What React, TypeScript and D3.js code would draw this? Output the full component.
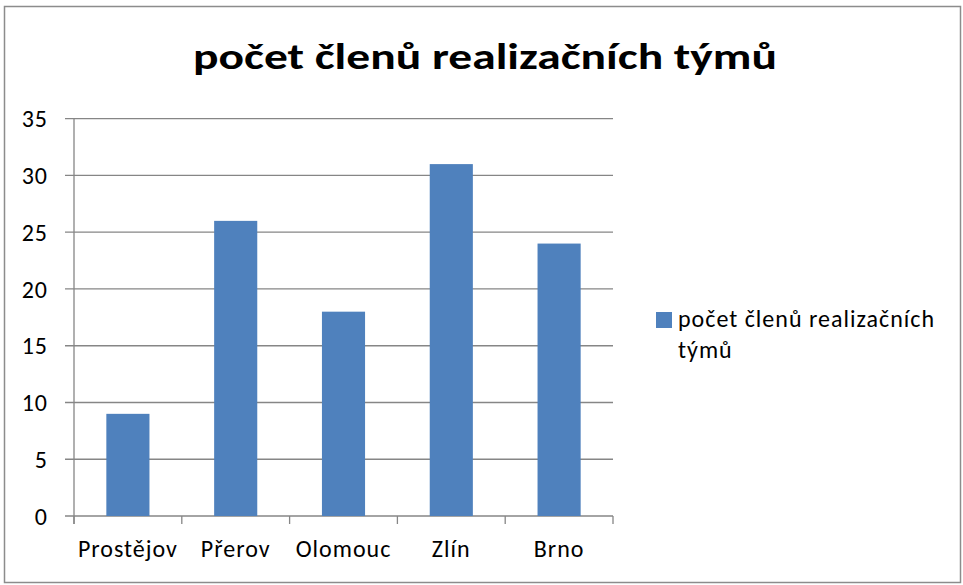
// @ts-nocheck
import React, { useEffect, useRef } from 'react';
import * as d3 from 'd3';

const categories = ['Prostějov', 'Přerov', 'Olomouc', 'Zlín', 'Brno'];
const values = [9, 26, 18, 31, 24];
const yTicks = [0, 5, 10, 15, 20, 25, 30, 35];
const title = 'počet členů realizačních týmů';
const legendLines = ['počet členů realizačních', 'týmů'];

const FONT = 'Carlito, Lato, "Liberation Sans", sans-serif';

export default function App() {
  const svgRef = useRef();

  useEffect(() => {
    const w = 963;
    const h = 585;
    const m = { left: 74, right: 613, top: 118.7, bottom: 516 };

    const svg = d3.select(svgRef.current)
      .attr('width', w)
      .attr('height', h)
      .style('font-family', FONT);
    svg.selectAll('*').remove();

    svg.append('rect')
      .attr('x', 4.5).attr('y', 6.5)
      .attr('width', 956).attr('height', 576)
      .attr('fill', 'white')
      .attr('stroke', '#8c8c8c')
      .attr('stroke-width', 1.5);

    svg.append('text')
      .attr('x', 485).attr('y', 69)
      .attr('text-anchor', 'middle')
      .attr('font-size', 37)
      .attr('font-weight', 'bold')
      .attr('textLength', 584)
      .attr('lengthAdjust', 'spacingAndGlyphs')
      .attr('fill', '#000')
      .text(title);

    const x = d3.scaleBand().domain(categories).range([m.left, m.right]).paddingInner(0).paddingOuter(0);
    const y = d3.scaleLinear().domain([0, 35]).range([m.bottom, m.top]);

    // gridlines
    svg.append('g').selectAll('line')
      .data(yTicks)
      .join('line')
      .attr('x1', m.left - 9).attr('x2', m.right)
      .attr('y1', d => y(d)).attr('y2', d => y(d))
      .attr('stroke', '#868686')
      .attr('stroke-width', 1.3);

    svg.append('g').selectAll('text')
      .data(yTicks)
      .join('text')
      .attr('x', 48).attr('y', d => y(d))
      .attr('dy', '0.36em')
      .attr('text-anchor', 'end')
      .attr('font-size', 24)
      .attr('letter-spacing', 1)
      .attr('fill', '#000')
      .text(d => d);

    // bars
    const bw = x.bandwidth() * 0.4;
    svg.append('g').selectAll('rect')
      .data(values)
      .join('rect')
      .attr('x', (d, i) => x(categories[i]) + (x.bandwidth() - bw) / 2)
      .attr('y', d => y(d))
      .attr('width', bw)
      .attr('height', d => y(0) - y(d))
      .attr('fill', '#4f81bd');

    // axes
    svg.append('line')
      .attr('x1', m.left).attr('x2', m.left)
      .attr('y1', m.top).attr('y2', m.bottom + 8)
      .attr('stroke', '#868686').attr('stroke-width', 1.3);

    const catEdges = categories.map(c => x(c)).concat([m.right]);
    svg.append('g').selectAll('line')
      .data(catEdges)
      .join('line')
      .attr('x1', d => d).attr('x2', d => d)
      .attr('y1', m.bottom).attr('y2', m.bottom + 8)
      .attr('stroke', '#868686').attr('stroke-width', 1.3);

    svg.append('g').selectAll('text')
      .data(categories)
      .join('text')
      .attr('x', d => x(d) + x.bandwidth() / 2)
      .attr('y', 557)
      .attr('text-anchor', 'middle')
      .attr('font-size', 24)
      .attr('letter-spacing', 1)
      .attr('fill', '#000')
      .text(d => d);

    // legend
    svg.append('rect')
      .attr('x', 656).attr('y', 312)
      .attr('width', 16).attr('height', 16)
      .attr('fill', '#4f81bd');

    svg.append('g').selectAll('text')
      .data(legendLines)
      .join('text')
      .attr('x', 678)
      .attr('y', (d, i) => 327 + i * 31)
      .attr('font-size', 24)
      .attr('letter-spacing', 1)
      .attr('fill', '#000')
      .text(d => d);
  }, []);

  return <div style={{ position: 'absolute', left: 0, top: 0 }}>
    <svg ref={svgRef} style={{ display: 'block' }} />
  </div>;
}
